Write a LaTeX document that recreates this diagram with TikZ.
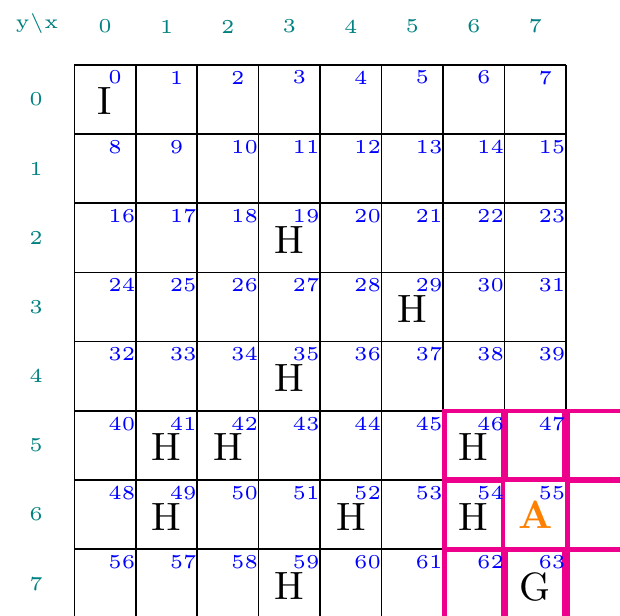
\documentclass[tikz,border=0pt]{standalone}
\definecolor{hlpink}{RGB}{236,0,140}
\definecolor{lblteal}{RGB}{0,128,128}
\definecolor{numblue}{RGB}{0,0,255}
\definecolor{agentorange}{RGB}{255,128,0}
\begin{document}
\begin{tikzpicture}[x=0.2532pt,y=-0.2532pt,
  gridline/.style={line width=0.4pt,black},
  hlcell/.style={line width=1.1pt,hlpink},
  headlbl/.style={text=lblteal,font=\tiny,inner sep=0pt},
  cellnum/.style={text=numblue,font=\tiny,inner sep=0pt,anchor=west},
  obstacle/.style={font=\normalsize,inner sep=0pt},
  agentlbl/.style={text=agentorange,font=\normalsize\bfseries,inner sep=0pt}]
\useasboundingbox (0,0) rectangle (620,615);
\clip (0,0) rectangle (620,615);
\def\L{74.3}\def\T{64.8}\def\W{61.46}\def\H{69.2}
% black grid
\foreach \i in {0,...,8}{
  \draw[gridline] ({\L+\W*\i},\T) -- ({\L+\W*\i},{\T+8*\H});
  \draw[gridline] (\L,{\T+\H*\i}) -- ({\L+8*\W},{\T+\H*\i});
}
% highlighted neighbourhood
\foreach \cx/\cy in {6/5,7/5,8/5,6/6,8/6,6/7,7/7,8/7}{
  \draw[hlcell] ({\L+\W*\cx+1.6},{\T+\H*\cy+0.4}) rectangle ({\L+\W*(\cx+1)-1.6},{\T+\H*(\cy+1)-0.4});
}
% headers
\node[headlbl,anchor=base] (corner) at (37,28.5) {y$\backslash$x};
\foreach \i in {0,...,7}{
  \node[headlbl] (colhead\i) at ({\L+\W*(\i+0.5)},26.5) {\i};
  \node[headlbl] (rowhead\i) at (36,{\T+\H*(\i+0.5)}) {\i};
}
% cell numbers
\foreach \n in {0,...,63}{
  \pgfmathtruncatemacro\cx{mod(\n,8)}
  \pgfmathtruncatemacro\cy{div(\n,8)}
  \node[cellnum] (num\n) at ({\L+\W*(\cx+0.5)+2.5},{\T+\H*\cy+12.8}) {\n};
}
% letters
\node[obstacle] (init) at ({\L+\W*0.5},{\T+\H*0.5+2}) {I};
\foreach \cx/\cy in {3/2,5/3,3/4,1/5,2/5,6/5,1/6,4/6,6/6,3/7}{
  \node[obstacle] (hole\cx\cy) at ({\L+\W*(\cx+0.5)},{\T+\H*(\cy+0.5)+2}) {H};
}
\node[agentlbl] (agent) at ({\L+\W*7.5},{\T+\H*6.5+0.5}) {A};
\node[obstacle] (goal) at ({\L+\W*7.5},{\T+\H*7.5+3}) {G};
\end{tikzpicture}
\end{document}
